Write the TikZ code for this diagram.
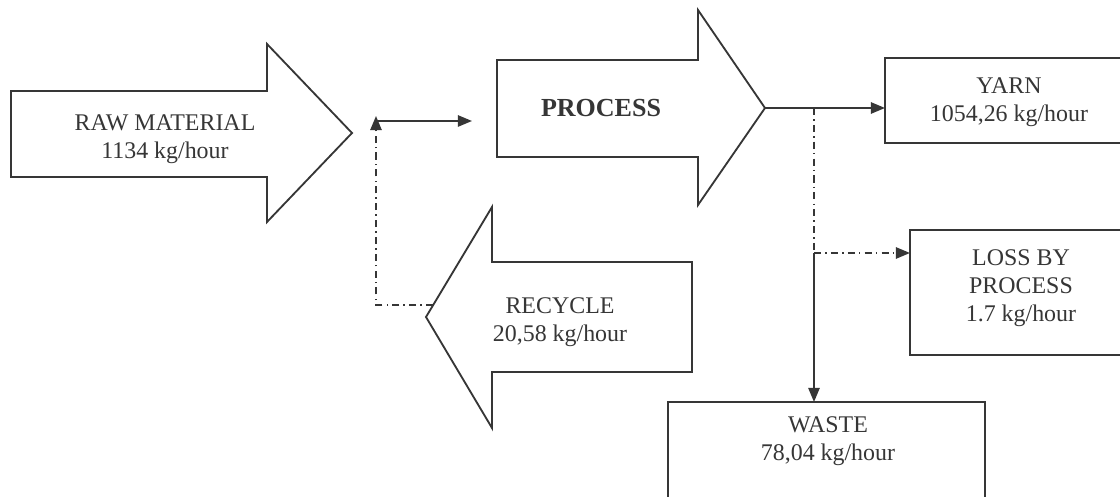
\documentclass[tikz,border=0pt]{standalone}
\usepackage{fontspec}
\setmainfont{Liberation Serif}
\usetikzlibrary{arrows.meta}
\definecolor{ink}{HTML}{363636}

\begin{document}
\begin{tikzpicture}[x = 0.025cm, y = -0.025cm, line width = 1.3pt, color = ink,
  flow/.style = {-{Triangle[length = 10pt, width = 8pt]}},
  dashdot/.style = {dash pattern = on 5pt off 3pt on 1pt off 3pt},
  txt/.style = {align = center, font = \fontsize{17}{20}\selectfont}]
%\draw[very thin, color = gray](0, 0) grid [step = 40] (1120, 497);
\useasboundingbox (0, 0) rectangle (1120, 497);
\fill [white] (0, 0) rectangle (1120, 497);
% block arrows
\draw (11, 91) -- (267, 91) -- (267, 44) -- (352, 133) -- (267, 222) -- (267, 177) -- (11, 177) -- cycle;
\draw (497, 60) -- (698, 60) -- (698, 10) -- (765, 108) -- (698, 205) -- (698, 157) -- (497, 157) -- cycle;
\draw (692, 262) -- (492, 262) -- (492, 207) -- (426, 317) -- (492, 428) -- (492, 372) -- (692, 372) -- cycle;
% boxes, open to the right
\draw (1130, 58) -- (885, 58) -- (885, 143) -- (1130, 143);
\draw (1130, 230) -- (910, 230) -- (910, 355) -- (1130, 355);
\draw (668, 510) -- (668, 402) -- (985, 402) -- (985, 510);
\node (raw) at (165, 139) [txt] {RAW MATERIAL\\1134 kg/hour};
\node (proc) at (601, 108) [font = \fontsize{18.5}{22}\selectfont\bfseries] {PROCESS};
\node (yarn) at (1009, 102) [txt] {YARN\\1054,26 kg/hour};
\node (loss) at (1021, 288) [txt] {LOSS BY\\PROCESS\\1.7 kg/hour};
\node (rec) at (560, 322) [txt] {RECYCLE\\20,58 kg/hour};
\node (waste) at (828, 441) [txt] {WASTE\\78,04 kg/hour};
\coordinate (rec out) at (433, 305);
\coordinate (bend) at (376, 305);
\coordinate (loop top) at (376, 116);
\coordinate (feed) at (376, 121);
\coordinate (proc in) at (472, 121);
\coordinate (proc tip) at (765, 108);
\coordinate (yarn in) at (885, 108);
\coordinate (split) at (814, 108);
\coordinate (fork) at (814, 253);
\coordinate (loss in) at (910, 253);
\coordinate (waste in) at (814, 402);
\draw [dashdot, flow] (rec out) -- (bend) -- (loop top);
\draw [flow] (feed) -- (proc in);
\draw [flow] (proc tip) -- (yarn in);
\draw [dashdot] (split) -- (fork);
\draw [dashdot, flow] (fork) -- (loss in);
\draw [flow] (fork) -- (waste in);
\end{tikzpicture}
\end{document}
